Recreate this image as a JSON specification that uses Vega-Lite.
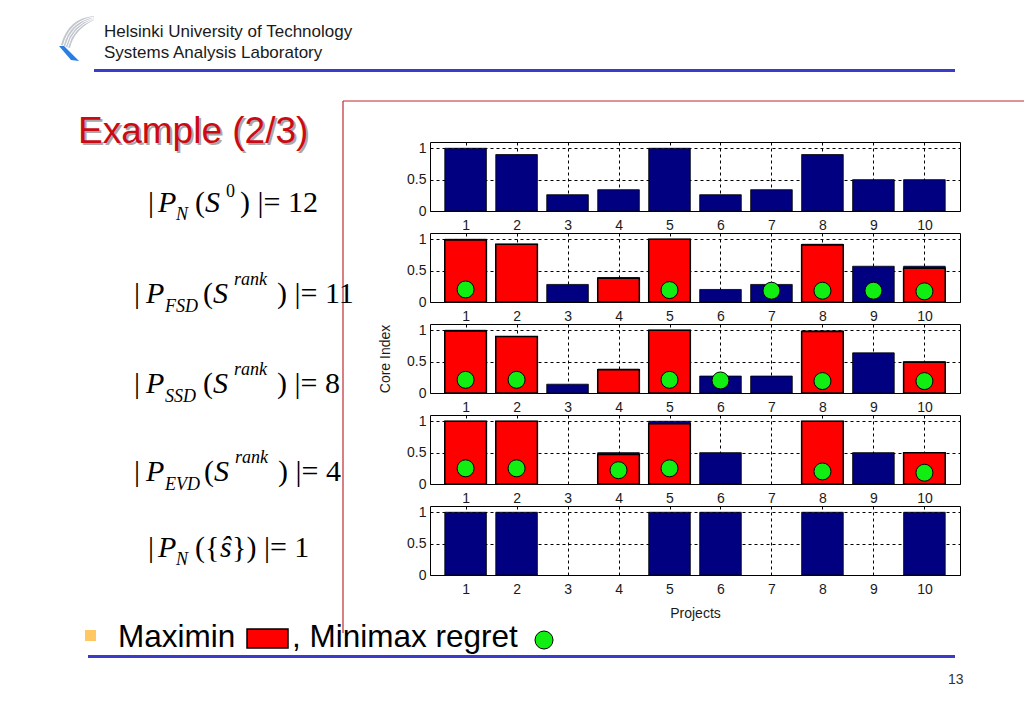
{
  "$schema": "https://vega.github.io/schema/vega-lite/v6.json",
  "background": "white",
  "padding": 0,
  "spacing": 0,
  "bounds": "flush",
  "config": {
    "view": {"stroke": null},
    "font": "Liberation Sans",
    "axis": {
      "labelFont": "Liberation Sans", "labelFontSize": 14, "labelColor": "#1a1a1a",
      "titleFont": "Liberation Sans", "titleFontSize": 14, "titleFontWeight": "normal", "titleColor": "#1a1a1a",
      "domain": false, "ticks": false,
      "gridColor": "black", "gridDash": [3, 3], "gridOpacity": 1, "gridWidth": 1
    },
    "axisY": {"values": [0, 0.5, 1], "format": "~g", "grid": true, "labelPadding": 4},
    "axisX": {"values": [1, 2, 3, 4, 5, 6, 7, 8, 9, 10], "format": "d", "grid": true, "labelPadding": 7, "labelFlush": false, "labelOverlap": false}
  },
  "datasets": {
    "bars": [
      {"panel": 1, "project": 1, "core": 1, "maximin": null, "regret": null},
      {"panel": 1, "project": 2, "core": 0.9, "maximin": null, "regret": null},
      {"panel": 1, "project": 3, "core": 0.26, "maximin": null, "regret": null},
      {"panel": 1, "project": 4, "core": 0.34, "maximin": null, "regret": null},
      {"panel": 1, "project": 5, "core": 1, "maximin": null, "regret": null},
      {"panel": 1, "project": 6, "core": 0.26, "maximin": null, "regret": null},
      {"panel": 1, "project": 7, "core": 0.34, "maximin": null, "regret": null},
      {"panel": 1, "project": 8, "core": 0.9, "maximin": null, "regret": null},
      {"panel": 1, "project": 9, "core": 0.5, "maximin": null, "regret": null},
      {"panel": 1, "project": 10, "core": 0.5, "maximin": null, "regret": null},
      {"panel": 2, "project": 1, "core": 1, "maximin": 0.99, "regret": 0.2},
      {"panel": 2, "project": 2, "core": 0.92, "maximin": 0.92, "regret": null},
      {"panel": 2, "project": 3, "core": 0.28, "maximin": null, "regret": null},
      {"panel": 2, "project": 4, "core": 0.39, "maximin": 0.38, "regret": null},
      {"panel": 2, "project": 5, "core": 1, "maximin": 1, "regret": 0.19},
      {"panel": 2, "project": 6, "core": 0.2, "maximin": null, "regret": null},
      {"panel": 2, "project": 7, "core": 0.28, "maximin": null, "regret": 0.18},
      {"panel": 2, "project": 8, "core": 0.92, "maximin": 0.91, "regret": 0.18},
      {"panel": 2, "project": 9, "core": 0.57, "maximin": null, "regret": 0.18},
      {"panel": 2, "project": 10, "core": 0.57, "maximin": 0.54, "regret": 0.17},
      {"panel": 3, "project": 1, "core": 1, "maximin": 0.99, "regret": 0.21},
      {"panel": 3, "project": 2, "core": 0.9, "maximin": 0.9, "regret": 0.21},
      {"panel": 3, "project": 3, "core": 0.14, "maximin": null, "regret": null},
      {"panel": 3, "project": 4, "core": 0.38, "maximin": 0.37, "regret": null},
      {"panel": 3, "project": 5, "core": 1, "maximin": 1, "regret": 0.21},
      {"panel": 3, "project": 6, "core": 0.27, "maximin": null, "regret": 0.2},
      {"panel": 3, "project": 7, "core": 0.27, "maximin": null, "regret": null},
      {"panel": 3, "project": 8, "core": 0.99, "maximin": 0.98, "regret": 0.19},
      {"panel": 3, "project": 9, "core": 0.64, "maximin": null, "regret": null},
      {"panel": 3, "project": 10, "core": 0.5, "maximin": 0.49, "regret": 0.19},
      {"panel": 4, "project": 1, "core": 1, "maximin": 1, "regret": 0.25},
      {"panel": 4, "project": 2, "core": 1, "maximin": 1, "regret": 0.25},
      {"panel": 4, "project": 3, "core": 0, "maximin": null, "regret": null},
      {"panel": 4, "project": 4, "core": 0.5, "maximin": 0.47, "regret": 0.22},
      {"panel": 4, "project": 5, "core": 1, "maximin": 0.96, "regret": 0.25},
      {"panel": 4, "project": 6, "core": 0.5, "maximin": null, "regret": null},
      {"panel": 4, "project": 7, "core": 0, "maximin": null, "regret": null},
      {"panel": 4, "project": 8, "core": 1, "maximin": 1, "regret": 0.2},
      {"panel": 4, "project": 9, "core": 0.5, "maximin": null, "regret": null},
      {"panel": 4, "project": 10, "core": 0.5, "maximin": 0.5, "regret": 0.18},
      {"panel": 5, "project": 1, "core": 1, "maximin": null, "regret": null},
      {"panel": 5, "project": 2, "core": 1, "maximin": null, "regret": null},
      {"panel": 5, "project": 3, "core": 0, "maximin": null, "regret": null},
      {"panel": 5, "project": 4, "core": 0, "maximin": null, "regret": null},
      {"panel": 5, "project": 5, "core": 1, "maximin": null, "regret": null},
      {"panel": 5, "project": 6, "core": 1, "maximin": null, "regret": null},
      {"panel": 5, "project": 7, "core": 0, "maximin": null, "regret": null},
      {"panel": 5, "project": 8, "core": 1, "maximin": null, "regret": null},
      {"panel": 5, "project": 9, "core": 0, "maximin": null, "regret": null},
      {"panel": 5, "project": 10, "core": 1, "maximin": null, "regret": null}
    ],
    "slide_text": [
      {"text": "Helsinki University of Technology", "x": 104, "y": 37, "kind": "head"},
      {"text": "Systems Analysis Laboratory", "x": 104, "y": 57.5, "kind": "head"},
      {"text": "Example (2/3)", "x": 78, "y": 143, "kind": "title"},
      {"text": "|", "x": 148, "y": 212, "kind": "up"},
      {"text": "P", "x": 158, "y": 212, "kind": "it"},
      {"text": "N", "x": 176, "y": 220, "kind": "subIt"},
      {"text": "(", "x": 195, "y": 212, "kind": "up"},
      {"text": "S", "x": 205, "y": 212, "kind": "it"},
      {"text": "0", "x": 226, "y": 197, "kind": "supUp"},
      {"text": ") |= 12", "x": 240, "y": 212, "kind": "up"},
      {"text": "|", "x": 134, "y": 303, "kind": "up"},
      {"text": "P", "x": 146, "y": 303, "kind": "it"},
      {"text": "FSD", "x": 165, "y": 312, "kind": "subIt"},
      {"text": "(", "x": 203, "y": 303, "kind": "up"},
      {"text": "S", "x": 213, "y": 303, "kind": "it"},
      {"text": "rank", "x": 234, "y": 285, "kind": "supIt"},
      {"text": ") |= 11", "x": 277, "y": 303, "kind": "up"},
      {"text": "|", "x": 134, "y": 393, "kind": "up"},
      {"text": "P", "x": 146, "y": 393, "kind": "it"},
      {"text": "SSD", "x": 165, "y": 402, "kind": "subIt"},
      {"text": "(", "x": 203, "y": 393, "kind": "up"},
      {"text": "S", "x": 213, "y": 393, "kind": "it"},
      {"text": "rank", "x": 234, "y": 375, "kind": "supIt"},
      {"text": ") |= 8", "x": 277, "y": 393, "kind": "up"},
      {"text": "|", "x": 134, "y": 481, "kind": "up"},
      {"text": "P", "x": 146, "y": 481, "kind": "it"},
      {"text": "EVD", "x": 165, "y": 490, "kind": "subIt"},
      {"text": "(", "x": 204, "y": 481, "kind": "up"},
      {"text": "S", "x": 214, "y": 481, "kind": "it"},
      {"text": "rank", "x": 235, "y": 463, "kind": "supIt"},
      {"text": ") |= 4", "x": 278, "y": 481, "kind": "up"},
      {"text": "|", "x": 148, "y": 557, "kind": "up"},
      {"text": "P", "x": 158, "y": 557, "kind": "it"},
      {"text": "N", "x": 176, "y": 565, "kind": "subIt"},
      {"text": "({", "x": 195, "y": 557, "kind": "up"},
      {"text": "ŝ", "x": 220, "y": 557, "kind": "it"},
      {"text": "}) |= 1", "x": 232, "y": 557, "kind": "up"},
      {"text": "Maximin", "x": 118, "y": 647, "kind": "foot"},
      {"text": ", Minimax regret", "x": 292, "y": 647, "kind": "foot"},
      {"text": "13", "x": 948, "y": 684, "kind": "page"}
    ],
    "slide_lines": [
      {"x": 94, "y": 70.5, "x2": 955, "y2": 70.5, "kind": "blue"},
      {"x": 88, "y": 656.5, "x2": 955, "y2": 656.5, "kind": "blue"},
      {"x": 343, "y": 101, "x2": 343, "y2": 633, "kind": "red"},
      {"x": 343, "y": 101, "x2": 1024, "y2": 101, "kind": "red"}
    ],
    "slide_boxes": [
      {"x": 247, "y": 629, "x2": 288, "y2": 648, "kind": "maximinKey"}
    ],
    "slide_points": [
      {"x": 90.5, "y": 635.5, "kind": "bullet"},
      {"x": 544, "y": 640, "kind": "regretKey"},
      {"x": 75, "y": 38, "kind": "logo"}
    ]
  },
  "hconcat": [
    {
      "width": 430,
      "height": 709,
      "encoding": {
        "x": {"field": "x", "type": "quantitative", "scale": {"domain": [0, 430], "nice": false, "zero": false}, "axis": null},
        "y": {"field": "y", "type": "quantitative", "scale": {"domain": [0, 709], "nice": false, "zero": false, "reverse": true}, "axis": null}
      },
      "layer": [
        {
          "data": {"name": "slide_lines"},
          "transform": [{"filter": "datum.kind == 'blue'"}],
          "mark": {"type": "rule", "color": "#3a3acb", "strokeWidth": 3},
          "encoding": {"x2": {"field": "x2"}, "y2": {"field": "y2"}}
        },
        {
          "data": {"name": "slide_lines"},
          "transform": [{"filter": "datum.kind == 'red'"}],
          "mark": {"type": "rule", "color": "#c0282d", "strokeWidth": 1.2},
          "encoding": {"x2": {"field": "x2"}, "y2": {"field": "y2"}}
        },
        {
          "data": {"name": "slide_points"},
          "transform": [{"filter": "datum.kind == 'logo'"}],
          "mark": {"type": "point", "filled": true, "opacity": 1, "color": "#c3c7ce", "size": 1600,
                   "shape": "M0.95,-1.1 Q-0.35,-1 -0.7,0.35 L-0.25,0.5 Q-0.05,-0.4 0.95,-0.9 Z"}
        },
        {
          "data": {"name": "slide_points"},
          "transform": [{"filter": "datum.kind == 'logo'"}],
          "mark": {"type": "point", "filled": false, "opacity": 1, "stroke": "white", "strokeWidth": 1, "size": 1600,
                   "shape": "M0.95,-1.05 Q-0.275,-0.85 -0.5875,0.3875 M0.95,-1 Q-0.2,-0.7 -0.475,0.425 M0.95,-0.95 Q-0.125,-0.55 -0.3625,0.4625"}
        },
        {
          "data": {"name": "slide_points"},
          "transform": [{"filter": "datum.kind == 'logo'"}],
          "mark": {"type": "point", "filled": true, "opacity": 1, "color": "#2a7de1", "size": 1600,
                   "shape": "M-0.8,0.4 L-0.55,0.4 L0.2,1.15 L-0.2,1.1 Z"}
        },
        {
          "data": {"name": "slide_text"},
          "transform": [{"filter": "datum.kind == 'head'"}],
          "mark": {"type": "text", "align": "left", "baseline": "alphabetic", "font": "Liberation Sans", "fontSize": 17, "color": "#1a1a1a"},
          "encoding": {"text": {"field": "text"}}
        },
        {
          "data": {"name": "slide_text"},
          "transform": [{"filter": "datum.kind == 'title'"}],
          "mark": {"type": "text", "align": "left", "baseline": "alphabetic", "font": "Liberation Sans", "fontSize": 37, "color": "#a8a8a8", "dx": 2, "dy": 2},
          "encoding": {"text": {"field": "text"}}
        },
        {
          "data": {"name": "slide_text"},
          "transform": [{"filter": "datum.kind == 'title'"}],
          "mark": {"type": "text", "align": "left", "baseline": "alphabetic", "font": "Liberation Sans", "fontSize": 37, "color": "#cc0a14"},
          "encoding": {"text": {"field": "text"}}
        },
        {
          "data": {"name": "slide_text"},
          "transform": [{"filter": "datum.kind == 'up'"}],
          "mark": {"type": "text", "align": "left", "baseline": "alphabetic", "font": "Liberation Serif", "fontSize": 30, "color": "black"},
          "encoding": {"text": {"field": "text"}}
        },
        {
          "data": {"name": "slide_text"},
          "transform": [{"filter": "datum.kind == 'it'"}],
          "mark": {"type": "text", "align": "left", "baseline": "alphabetic", "font": "Liberation Serif", "fontStyle": "italic", "fontSize": 30, "color": "black"},
          "encoding": {"text": {"field": "text"}}
        },
        {
          "data": {"name": "slide_text"},
          "transform": [{"filter": "datum.kind == 'subIt' || datum.kind == 'supIt'"}],
          "mark": {"type": "text", "align": "left", "baseline": "alphabetic", "font": "Liberation Serif", "fontStyle": "italic", "fontSize": 18, "color": "black"},
          "encoding": {"text": {"field": "text"}}
        },
        {
          "data": {"name": "slide_text"},
          "transform": [{"filter": "datum.kind == 'supUp'"}],
          "mark": {"type": "text", "align": "left", "baseline": "alphabetic", "font": "Liberation Serif", "fontSize": 18, "color": "black"},
          "encoding": {"text": {"field": "text"}}
        },
        {
          "data": {"name": "slide_text"},
          "transform": [{"filter": "datum.kind == 'foot'"}],
          "mark": {"type": "text", "align": "left", "baseline": "alphabetic", "font": "Liberation Sans", "fontSize": 31.5, "color": "black"},
          "encoding": {"text": {"field": "text"}}
        },
        {
          "data": {"name": "slide_text"},
          "transform": [{"filter": "datum.kind == 'page'"}],
          "mark": {"type": "text", "align": "left", "baseline": "alphabetic", "font": "Liberation Sans", "fontSize": 14, "color": "#333333"},
          "encoding": {"text": {"field": "text"}}
        },
        {
          "data": {"name": "slide_boxes"},
          "mark": {"type": "rect", "color": "#ff0000", "stroke": "black", "strokeWidth": 1.5},
          "encoding": {"x2": {"field": "x2"}, "y2": {"field": "y2"}}
        },
        {
          "data": {"name": "slide_points"},
          "transform": [{"filter": "datum.kind == 'bullet'"}],
          "mark": {"type": "point", "shape": "square", "filled": true, "opacity": 1, "color": "#ffc862", "size": 121}
        },
        {
          "data": {"name": "slide_points"},
          "transform": [{"filter": "datum.kind == 'regretKey'"}],
          "mark": {"type": "point", "shape": "circle", "filled": true, "opacity": 1, "color": "#11ee11", "stroke": "black", "strokeWidth": 1, "size": 324}
        }
      ]
    },
    {
      "spacing": 22,
      "bounds": "flush",
      "vconcat": [
        {
          "width": 530,
          "height": 120,
          "data": {"values": [{"t": ""}]},
          "mark": {"type": "text"},
          "encoding": {"text": {"field": "t"}}
        },
        {
          "width": 530, "height": 69,
          "view": {"stroke": "black", "strokeWidth": 1},
          "data": {"name": "bars"},
          "transform": [{"filter": "datum.panel == 1"}],
          "encoding": {
            "x": {"field": "project", "type": "quantitative", "title": null, "scale": {"domain": [0.4, 10.6], "nice": false, "zero": false}}
          },
          "layer": [
            {"transform": [{"filter": "datum.core > 0"}],
             "mark": {"type": "bar", "size": 41.6, "color": "#000080", "stroke": "black", "strokeWidth": 0.8},
             "encoding": {"y": {"field": "core", "type": "quantitative", "title": null, "scale": {"domain": [0, 1.1], "nice": false}}}}
          ]
        },
        {
          "width": 530, "height": 69,
          "view": {"stroke": "black", "strokeWidth": 1},
          "data": {"name": "bars"},
          "transform": [{"filter": "datum.panel == 2"}],
          "encoding": {
            "x": {"field": "project", "type": "quantitative", "title": null, "scale": {"domain": [0.4, 10.6], "nice": false, "zero": false}}
          },
          "layer": [
            {"transform": [{"filter": "datum.core > 0"}],
             "mark": {"type": "bar", "size": 41.6, "color": "#000080", "stroke": "black", "strokeWidth": 0.8},
             "encoding": {"y": {"field": "core", "type": "quantitative", "title": null, "scale": {"domain": [0, 1.1], "nice": false}}}},
            {"transform": [{"filter": "isValid(datum.maximin)"}],
             "mark": {"type": "bar", "size": 41.6, "color": "#ff0000", "stroke": "black", "strokeWidth": 1.5},
             "encoding": {"y": {"field": "maximin", "type": "quantitative", "title": null}}},
            {"transform": [{"filter": "isValid(datum.regret)"}],
             "mark": {"type": "point", "shape": "circle", "filled": true, "opacity": 1, "color": "#11ee11", "stroke": "black", "strokeWidth": 1, "size": 289},
             "encoding": {"y": {"field": "regret", "type": "quantitative", "title": null}}}
          ]
        },
        {
          "width": 530, "height": 69,
          "view": {"stroke": "black", "strokeWidth": 1},
          "data": {"name": "bars"},
          "transform": [{"filter": "datum.panel == 3"}],
          "encoding": {
            "x": {"field": "project", "type": "quantitative", "title": null, "scale": {"domain": [0.4, 10.6], "nice": false, "zero": false}}
          },
          "layer": [
            {"transform": [{"filter": "datum.core > 0"}],
             "mark": {"type": "bar", "size": 41.6, "color": "#000080", "stroke": "black", "strokeWidth": 0.8},
             "encoding": {"y": {"field": "core", "type": "quantitative", "title": "Core Index", "scale": {"domain": [0, 1.1], "nice": false}, "axis": {"titlePadding": 14}}}},
            {"transform": [{"filter": "isValid(datum.maximin)"}],
             "mark": {"type": "bar", "size": 41.6, "color": "#ff0000", "stroke": "black", "strokeWidth": 1.5},
             "encoding": {"y": {"field": "maximin", "type": "quantitative", "title": "Core Index"}}},
            {"transform": [{"filter": "isValid(datum.regret)"}],
             "mark": {"type": "point", "shape": "circle", "filled": true, "opacity": 1, "color": "#11ee11", "stroke": "black", "strokeWidth": 1, "size": 289},
             "encoding": {"y": {"field": "regret", "type": "quantitative", "title": "Core Index"}}}
          ]
        },
        {
          "width": 530, "height": 69,
          "view": {"stroke": "black", "strokeWidth": 1},
          "data": {"name": "bars"},
          "transform": [{"filter": "datum.panel == 4"}],
          "encoding": {
            "x": {"field": "project", "type": "quantitative", "title": null, "scale": {"domain": [0.4, 10.6], "nice": false, "zero": false}}
          },
          "layer": [
            {"transform": [{"filter": "datum.core > 0"}],
             "mark": {"type": "bar", "size": 41.6, "color": "#000080", "stroke": "black", "strokeWidth": 0.8},
             "encoding": {"y": {"field": "core", "type": "quantitative", "title": null, "scale": {"domain": [0, 1.1], "nice": false}}}},
            {"transform": [{"filter": "isValid(datum.maximin)"}],
             "mark": {"type": "bar", "size": 41.6, "color": "#ff0000", "stroke": "black", "strokeWidth": 1.5},
             "encoding": {"y": {"field": "maximin", "type": "quantitative", "title": null}}},
            {"transform": [{"filter": "isValid(datum.regret)"}],
             "mark": {"type": "point", "shape": "circle", "filled": true, "opacity": 1, "color": "#11ee11", "stroke": "black", "strokeWidth": 1, "size": 289},
             "encoding": {"y": {"field": "regret", "type": "quantitative", "title": null}}}
          ]
        },
        {
          "width": 530, "height": 69,
          "view": {"stroke": "black", "strokeWidth": 1},
          "data": {"name": "bars"},
          "transform": [{"filter": "datum.panel == 5"}],
          "encoding": {
            "x": {"field": "project", "type": "quantitative", "title": "Projects", "scale": {"domain": [0.4, 10.6], "nice": false, "zero": false}, "axis": {"titlePadding": 10}}
          },
          "layer": [
            {"transform": [{"filter": "datum.core > 0"}],
             "mark": {"type": "bar", "size": 41.6, "color": "#000080", "stroke": "black", "strokeWidth": 0.8},
             "encoding": {"y": {"field": "core", "type": "quantitative", "title": null, "scale": {"domain": [0, 1.1], "nice": false}}}}
          ]
        }
      ]
    }
  ]
}
